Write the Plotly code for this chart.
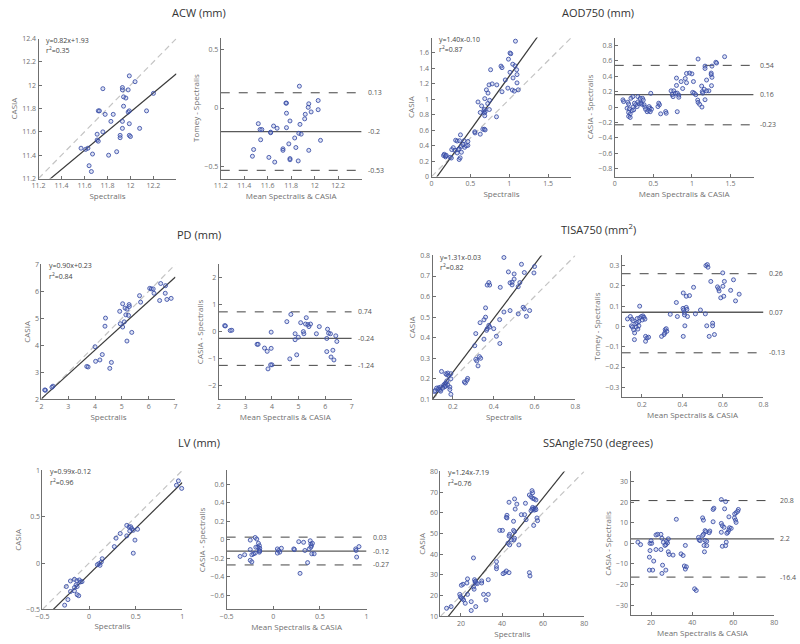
import plotly.graph_objects as go

W, H = 800, 644

# ---------------- DATA ----------------
# ACW (mm)
acw_spec = [11.99, 12.04, 11.93, 11.93, 11.98, 11.76, 12.20, 11.94, 11.96, 11.98, 11.99, 12.14, 11.72, 11.73,
            11.78, 11.85, 11.94, 11.83, 11.93, 11.99, 11.93, 12.08, 11.76, 11.71, 11.71, 11.72, 11.91, 11.91,
            11.99, 12.00, 11.57, 11.61, 11.63, 11.67, 11.81, 11.88, 11.64, 11.66]
acw_casia = [12.08, 12.03, 11.98, 11.96, 11.96, 11.97, 11.93, 11.90, 11.89, 11.77, 11.78, 11.78, 11.78, 11.78,
             11.75, 11.75, 11.82, 11.69, 11.69, 11.67, 11.63, 11.63, 11.60, 11.58, 11.53, 11.52, 11.57, 11.55,
             11.57, 11.56, 11.46, 11.45, 11.46, 11.41, 11.40, 11.43, 11.31, 11.26]
acw_mean = [11.87, 11.755, 11.76, 11.95, 12.03, 11.945, 11.76, 11.97, 11.92, 12.03, 11.915, 11.79, 11.52, 11.65,
            11.68, 11.76, 11.875, 11.535, 11.55, 11.625, 11.625, 11.865, 11.885, 11.83, 11.54, 12.05, 11.78,
            11.73, 11.73, 11.84, 11.48, 11.95, 11.47, 11.61, 11.79, 11.79, 11.86, 11.66]
acw_diff = [0.186, 0.042, 0.042, 0.036, 0.064, 0.006, -0.044, -0.033, -0.053, -0.014, -0.092, -0.11, -0.133,
            -0.153, -0.172, -0.167, -0.139, -0.183, -0.183, -0.205, -0.21, -0.215, -0.222, -0.255, -0.27, -0.275,
            -0.305, -0.347, -0.36, -0.336, -0.353, -0.36, -0.41, -0.42, -0.43, -0.44, -0.45, -0.46]
acw_lines = [0.13, -0.2, -0.53]
acw_eq = ["y=0.82x+1.93", "0.35"]
acw_fit = [0.82, 1.93]

# AOD750 (mm)
aod_spec = [1.08, 1.01, 1.02, 0.99, 1.045, 1.074, 0.894, 0.907, 0.76, 1.095, 1.01, 1.10, 1.049, 0.949, 1.10,
            0.74, 0.78, 0.84, 0.982, 1.04, 1.066, 1.116, 0.907, 0.706, 0.727, 0.598, 0.748, 0.685, 0.644, 0.723,
            0.744, 0.627, 0.673, 0.69, 0.68, 0.68, 0.685, 0.836, 0.66, 0.68, 0.69, 0.627, 0.556, 0.56, 0.372,
            0.31, 0.33, 0.36, 0.418, 0.468, 0.468, 0.426, 0.384, 0.28, 0.355, 0.405, 0.447, 0.343, 0.30, 0.26,
            0.384, 0.33, 0.163, 0.155, 0.18, 0.24, 0.255, 0.368, 0.355, 0.18, 0.19]
aod_casia = [1.753, 1.60, 1.59, 1.52, 1.455, 1.434, 1.43, 1.41, 1.383, 1.383, 1.35, 1.32, 1.277, 1.251, 1.213,
             1.187, 1.20, 1.187, 1.145, 1.12, 1.106, 1.123, 1.098, 1.123, 1.081, 0.966, 0.987, 1.009, 0.915,
             0.945, 0.868, 0.83, 0.851, 0.84, 0.825, 0.87, 0.787, 0.774, 0.613, 0.613, 0.604, 0.549, 0.58,
             0.565, 0.54, 0.47, 0.46, 0.464, 0.464, 0.455, 0.404, 0.379, 0.391, 0.374, 0.357, 0.413, 0.40,
             0.349, 0.34, 0.349, 0.315, 0.306, 0.289, 0.272, 0.255, 0.25, 0.24, 0.243, 0.221, 0.27, 0.275]
aod_mean = [1.424, 1.08, 1.31, 1.32, 1.17, 1.17, 1.26, 0.93, 0.97, 1.0, 0.80, 1.25, 1.25, 1.26, 1.19, 0.914,
            1.02, 0.86, 0.93, 0.80, 1.126, 1.254, 0.88, 1.22, 1.19, 1.16, 0.73, 0.765, 0.786, 0.81, 1.01, 1.03,
            1.05, 1.135, 1.14, 0.744, 0.756, 0.83, 0.83, 1.075, 1.08, 1.10, 1.13, 1.17, 0.81, 0.57, 0.58, 0.56,
            0.595, 0.66, 0.667, 0.467, 0.106, 0.115, 0.17, 0.18, 0.16, 0.19, 0.18, 0.20, 0.225, 0.18, 0.20,
            0.21, 0.234, 0.255, 0.27, 0.29, 0.238, 0.246, 0.30, 0.32, 0.30, 0.33, 0.36, 0.34, 0.35, 0.37, 0.38,
            0.39, 0.40, 0.42, 0.44, 0.446, 0.455, 0.476, 0.46]
aod_diff = [0.652, 0.622, 0.58, 0.57, 0.53, 0.50, 0.53, 0.435, 0.44, 0.43, 0.375, 0.44, 0.42, 0.385, 0.35,
            0.37, 0.33, 0.33, 0.315, 0.28, 0.272, 0.277, 0.24, 0.21, 0.21, 0.23, 0.21, 0.21, 0.18, 0.18, 0.19,
            0.18, 0.16, 0.20, 0.18, 0.16, 0.135, 0.127, 0.155, 0.09, 0.06, 0.035, 0.0, 0.095, -0.06, 0.05, 0.03,
            0.006, -0.088, -0.058, -0.08, 0.178, 0.093, 0.071, 0.063, 0.04, -0.015, -0.024, -0.07, -0.09, -0.045,
            -0.12, -0.135, 0.114, 0.135, 0.05, 0.03, 0.006, 0.0, -0.036, 0.066, 0.045, 0.135, 0.113, 0.113,
            0.05, 0.036, 0.09, 0.03, 0.0, -0.03, -0.06, -0.045, 0.006, -0.015, -0.028, -0.06]
aod_lines = [0.54, 0.16, -0.23]
aod_eq = ["y=1.40x-0.10", "0.87"]
aod_fit = [1.40, -0.10]

# PD (mm)
pd_spec = [6.45, 6.63, 6.04, 6.10, 6.17, 6.20, 6.62, 5.66, 6.41, 6.68, 6.84, 5.70, 5.03, 5.27, 5.28, 5.12,
           5.19, 4.92, 5.15, 5.25, 4.39, 5.09, 4.94, 5.03, 4.37, 5.37, 5.19, 4.00, 4.27, 4.18, 4.02, 4.61,
           4.55, 3.69, 3.74, 2.43, 2.39, 2.15, 2.12]
pd_casia = [6.29, 6.21, 6.11, 6.09, 6.09, 5.93, 5.93, 5.84, 5.66, 5.70, 5.74, 5.60, 5.54, 5.51, 5.44, 5.38,
            5.34, 5.26, 5.13, 5.11, 5.01, 4.87, 4.80, 4.68, 4.71, 4.48, 4.16, 3.95, 3.66, 3.46, 3.41, 3.37,
            3.15, 3.22, 3.20, 2.49, 2.45, 2.34, 2.35]
pd_mean = [4.71, 4.56, 5.29, 5.08, 5.26, 5.35, 5.45, 5.39, 5.18, 5.20, 5.78, 5.67, 6.09, 6.13, 6.20, 6.40,
           6.44, 6.06, 4.87, 4.99, 4.87, 3.97, 2.22, 2.25, 2.43, 2.49, 3.44, 3.48, 3.72, 3.82, 3.97, 4.93,
           4.67, 4.00, 3.95, 3.85, 6.06, 6.29, 6.22, 6.33]
pd_diff = [0.646, 0.378, 0.524, 0.34, 0.29, 0.27, 0.29, 0.195, 0.01, -0.07, 0.195, -0.07, 0.1, -0.05, -0.07,
           -0.146, -0.354, -0.244, -0.07, -0.2, -0.29, -0.01, 0.23, 0.22, 0.05, 0.06, -0.46, -0.46, -0.6,
           -0.72, -0.61, -0.85, -1.0, -1.22, -1.22, -1.37, -0.73, -0.68, -0.93, -1.04]
pd_lines = [0.74, -0.24, -1.24]
pd_eq = ["y=0.90x+0.23", "0.84"]
pd_fit = [0.90, 0.23]

# TISA750 (mm2)
tisa_spec = [0.45, 0.536, 0.60, 0.472, 0.50, 0.55, 0.597, 0.50, 0.376, 0.38, 0.368, 0.48, 0.49, 0.49, 0.528,
             0.52, 0.432, 0.36, 0.45, 0.48, 0.544, 0.55, 0.576, 0.52, 0.56, 0.36, 0.352, 0.429, 0.333, 0.376,
             0.38, 0.368, 0.365, 0.40, 0.312, 0.413, 0.352, 0.43, 0.307, 0.312, 0.317, 0.33, 0.336, 0.323,
             0.272, 0.269, 0.261, 0.256, 0.144, 0.165, 0.17, 0.175, 0.18, 0.19, 0.19, 0.17, 0.165, 0.16, 0.155,
             0.16, 0.14, 0.13, 0.12, 0.15, 0.165, 0.175, 0.185, 0.13, 0.135, 0.14, 0.112, 0.11, 0.185, 0.19]
tisa_casia = [0.79, 0.757, 0.746, 0.72, 0.71, 0.717, 0.715, 0.685, 0.668, 0.656, 0.656, 0.667, 0.657, 0.67,
              0.668, 0.648, 0.645, 0.545, 0.525, 0.532, 0.548, 0.54, 0.532, 0.516, 0.504, 0.50, 0.487, 0.488,
              0.473, 0.46, 0.452, 0.444, 0.436, 0.444, 0.42, 0.407, 0.393, 0.372, 0.361, 0.295, 0.287, 0.308,
              0.30, 0.263, 0.202, 0.193, 0.18, 0.185, 0.236, 0.225, 0.22, 0.228, 0.215, 0.225, 0.20, 0.19,
              0.18, 0.175, 0.17, 0.162, 0.16, 0.157, 0.155, 0.155, 0.165, 0.17, 0.16, 0.15, 0.145, 0.14, 0.143,
              0.138, 0.148, 0.125]
tisa_mean = [0.623, 0.516, 0.523, 0.526, 0.599, 0.652, 0.54, 0.607, 0.573, 0.578, 0.581, 0.60, 0.638, 0.68,
             0.589, 0.604, 0.662, 0.455, 0.404, 0.419, 0.435, 0.37, 0.403, 0.406, 0.419, 0.422, 0.489, 0.425,
             0.34, 0.375, 0.41, 0.41, 0.464, 0.513, 0.52, 0.549, 0.549, 0.532, 0.558, 0.412, 0.404, 0.189,
             0.315, 0.32, 0.323, 0.313, 0.309, 0.297, 0.218, 0.225, 0.233, 0.218, 0.129, 0.143, 0.151, 0.156,
             0.148, 0.153, 0.159, 0.164, 0.163, 0.17, 0.176, 0.185, 0.177, 0.189, 0.197, 0.205, 0.21, 0.215,
             0.172, 0.18, 0.185, 0.202]
tisa_diff = [0.352, 0.30, 0.305, 0.292, 0.264, 0.23, 0.222, 0.222, 0.195, 0.186, 0.175, 0.198, 0.178, 0.159,
             0.141, 0.149, 0.126, 0.193, 0.165, 0.149, 0.152, 0.118, 0.089, 0.081, 0.094, 0.084, 0.081, 0.049,
             0.06, 0.049, 0.068, 0.057, 0.062, 0.062, 0.003, 0.016, 0.003, -0.049, -0.04, 0.003, -0.049, 0.1,
             -0.016, -0.011, -0.024, -0.032, -0.04, -0.049, -0.049, -0.057, -0.053, -0.073, 0.037, 0.049, 0.036,
             0.028, 0.003, -0.003, -0.016, -0.032, -0.065, 0.013, 0.019, 0.024, 0.039, 0.042, 0.049, 0.052,
             0.045, 0.036, -0.003, -0.013, 0.003, 0.032]
tisa_lines = [0.26, 0.07, -0.13]
tisa_eq = ["y=1.31x-0.03", "0.82"]
tisa_fit = [1.31, -0.03]

# LV (mm)
lv_spec = [0.958, 0.937, 0.993, 0.404, 0.429, 0.446, 0.457, 0.436, 0.474, 0.52, 0.334, 0.289, 0.404, 0.492,
           0.474, 0.271, 0.141, 0.131, 0.106, 0.117, 0.089, -0.104, -0.093, -0.076, -0.157, -0.132, -0.2,
           -0.139, -0.128, -0.157, -0.128, -0.111, -0.199, -0.244, -0.227, -0.262, -0.157]
lv_casia = [0.887, 0.84, 0.806, 0.407, 0.389, 0.393, 0.372, 0.347, 0.354, 0.365, 0.319, 0.269, 0.294, 0.248,
            0.107, 0.178, 0.047, 0.012, -0.006, -0.024, -0.017, -0.182, -0.204, -0.2, -0.175, -0.19, -0.193,
            -0.235, -0.253, -0.299, -0.341, -0.352, -0.306, -0.253, -0.394, -0.454, -0.264]
lv_mean = [-0.247, -0.194, -0.177, -0.159, -0.149, -0.166, -0.145, -0.187, -0.247, -0.194, -0.212, -0.23,
           -0.149, -0.149, -0.145, -0.356, -0.307, -0.247, -0.23, 0.044, 0.058, 0.069, 0.044, 0.087, 0.22,
           0.227, 0.273, 0.325, 0.339, 0.385, 0.396, 0.403, 0.41, 0.42, 0.403, 0.413, 0.438, 0.368, 0.287,
           0.884, 0.888, 0.919, 0.894]
lv_diff = [-0.002, 0.026, 0.009, -0.037, -0.062, -0.079, -0.09, -0.079, -0.104, -0.142, -0.15, -0.16, -0.114,
           -0.132, -0.12, -0.178, -0.16, -0.22, -0.237, -0.097, -0.114, -0.132, -0.142, -0.09, -0.097, -0.104,
           -0.019, -0.026, -0.114, -0.097, -0.009, -0.044, -0.062, -0.037, -0.079, -0.15, -0.15, -0.245,
           -0.361, -0.097, -0.114, -0.072, -0.185]
lv_lines = [0.03, -0.12, -0.27]
lv_eq = ["y=0.99x-0.12", "0.96"]
lv_fit = [0.99, -0.12]

# SSAngle750 (degrees)
ss_spec = [54.6, 54.9, 53.3, 54.1, 54.9, 55.7, 56.5, 46.1, 43.4, 47.2, 51.4, 54.9, 55.4, 56.2, 55.7, 56.5,
           54.6, 54.1, 46.4, 42.4, 42.4, 42.1, 49.4, 51.0, 51.7, 57.0, 57.3, 55.4, 45.6, 38.9, 40.2, 45.6,
           46.1, 43.7, 43.4, 46.1, 45.8, 44.5, 42.9, 43.7, 48.2, 37.3, 37.3, 37.3, 26.1, 41.3, 42.1, 43.4,
           53.3, 53.6, 40.5, 26.6, 26.9, 27.4, 28.0, 27.0, 30.1, 30.1, 33.3, 23.2, 22.9, 21.0, 20.2, 26.1,
           26.4, 23.2, 19.4, 19.7, 20.2, 20.8, 21.3, 31.0, 33.3, 32.2, 22.1, 25.0, 27.2, 25.0, 15.2, 13.0]
ss_casia = [70.7, 69.7, 68.6, 67.8, 67.0, 66.7, 66.2, 66.7, 65.1, 64.2, 64.6, 62.6, 61.9, 62.3, 61.3, 61.5,
            61.8, 61.0, 61.8, 58.8, 57.5, 57.8, 59.1, 59.1, 56.7, 57.5, 56.2, 53.9, 55.9, 51.5, 51.5, 51.5,
            50.9, 49.6, 48.8, 47.7, 46.9, 46.9, 45.3, 44.5, 44.5, 36.4, 34.1, 33.0, 38.2, 31.1, 31.9, 31.1,
            31.1, 29.5, 30.6, 27.7, 26.6, 26.1, 25.8, 26.9, 27.1, 26.1, 27.7, 28.1, 26.1, 25.5, 25.0, 24.2,
            23.1, 20.6, 20.6, 19.5, 18.9, 18.5, 17.9, 20.6, 20.6, 17.9, 16.3, 17.1, 14.7, 12.8, 14.7, 13.9]
ss_mean = [54.2, 56.3, 50.2, 50.6, 55.8, 62.5, 62.2, 61.4, 60.7, 45.1, 45.5, 32.3, 57.9, 60.6, 61.1, 61.4,
           50.2, 54.2, 54.7, 55.5, 58.2, 59.0, 57.9, 57.4, 48.6, 48.3, 46.3, 46.7, 45.5, 45.1, 54.2, 56.9,
           43.1, 43.4, 43.9, 46.3, 47.1, 22.4, 23.2, 24.8, 25.3, 26.0, 27.6, 28.0, 27.2, 26.8, 28.4, 13.6,
           14.9, 19.5, 20.3, 20.0, 19.5, 19.2, 22.4, 24.8, 28.4, 28.8, 30.7, 34.6, 35.6, 36.7, 45.8, 47.1,
           46.0, 54.7, 56.3, 56.6, 21.3, 19.2, 20.8, 25.6, 27.2, 25.3, 36.2, 37.2, 36.7, 41.2, 42.0]
ss_diff = [21.3, 20.3, 16.5, 17.1, 16.8, 16.5, 15.6, 14.9, 14.3, 12.4, 11.3, 11.7, 12.9, 12.4, 11.3, 10.2,
           10.5, 9.7, 8.6, 7.8, 7.6, 7.3, 6.5, 5.4, 6.0, 5.2, 6.2, 5.7, 4.4, 3.8, 5.4, 4.9, 2.9, 1.7, 1.3,
           1.4, 1.0, 4.1, 4.4, 4.4, 2.5, 0.5, 1.0, 0.2, -0.6, -1.0, 2.2, 0.6, -0.6, 0.0, 0.0, 1.3, -3.5, -6.7,
           -3.0, -3.0, -4.1, -5.4, -5.7, -5.1, -5.9, -1.0, -1.0, -1.1, -4.1, -1.4, -1.1, 0.6, -8.6, -13.0,
           -13.0, -10.6, -13.0, -14.6, -11.0, -11.4, -12.5, -22.1, -22.9]
ss_lines = [20.8, 2.2, -16.4]
ss_eq = ["y=1.24x-7.19", "0.76"]
ss_fit = [1.24, -7.19]

titles = ["ACW (mm)", "AOD750 (mm)", "PD (mm)", "TISA750 (mm<sup>2</sup>)", "LV (mm)",
          "SSAngle750 (degrees)"]
ba_ylabels = ["Tomey - Spectralis", "CASIA - Spectralis", "CASIA - Spectralis", "Tomey - Spectralis",
              "CASIA - Spectralis", "CASIA - Spectralis"]

# ---------------- LAYOUT SPEC ----------------
# pixel boxes: (x0, x1, y0_top, y1_bottom)
groups = [
    dict(spec=acw_spec, casia=acw_casia, mean=acw_mean, diff=acw_diff, lines=acw_lines, eq=acw_eq, fit=acw_fit,
         sbox=(32, 172, 34, 176), bbox=(217, 360, 33, 176),
         sx=[11.2, 12.4], sy=[11.2, 12.4], sxt=[11.2, 11.4, 11.6, 11.8, 12, 12.2],
         syt=[11.2, 11.4, 11.6, 11.8, 12, 12.2, 12.4],
         bx=[11.2, 12.4], by=[-0.6, 0.6], bxt=[11.2, 11.4, 11.6, 11.8, 12, 12.2], byt=[-0.5, 0, 0.5],
         title_xy=(195, 8)),
    dict(spec=aod_spec, casia=aod_casia, mean=aod_mean, diff=aod_diff, lines=aod_lines, eq=aod_eq, fit=aod_fit,
         sbox=(431, 573, 33, 174), bbox=(617, 758, 33, 174),
         sx=[0, 1.8], sy=[0, 1.8], sxt=[0, 0.5, 1, 1.5], syt=[0, 0.2, 0.4, 0.6, 0.8, 1, 1.2, 1.4, 1.6],
         bx=[0, 1.8], by=[-0.9, 0.9], bxt=[0, 0.5, 1, 1.5],
         byt=[-0.8, -0.6, -0.4, -0.2, 0, 0.2, 0.4, 0.6, 0.8], title_xy=(600, 8)),
    dict(spec=pd_spec, casia=pd_casia, mean=pd_mean, diff=pd_diff, lines=pd_lines, eq=pd_eq, fit=pd_fit,
         sbox=(35, 171, 263, 400), bbox=(215, 350, 263, 400),
         sx=[2, 7], sy=[2, 7], sxt=[2, 3, 4, 5, 6, 7], syt=[2, 3, 4, 5, 6, 7],
         bx=[2, 7], by=[-2.5, 2.5], bxt=[2, 3, 4, 5, 6, 7], byt=[-2, -1, 0, 1, 2], title_xy=(195, 233)),
    dict(spec=tisa_spec, casia=tisa_casia, mean=tisa_mean, diff=tisa_diff, lines=tisa_lines, eq=tisa_eq,
         fit=tisa_fit, sbox=(432, 577, 254, 400), bbox=(624, 768, 254, 398),
         sx=[0.1, 0.8], sy=[0.1, 0.8], sxt=[0.2, 0.4, 0.6, 0.8],
         syt=[0.1, 0.2, 0.3, 0.4, 0.5, 0.6, 0.7, 0.8],
         bx=[0.1, 0.8], by=[-0.35, 0.35], bxt=[0.2, 0.4, 0.6, 0.8],
         byt=[-0.3, -0.2, -0.1, 0, 0.1, 0.2, 0.3], title_xy=(600, 227)),
    dict(spec=lv_spec, casia=lv_casia, mean=lv_mean, diff=lv_diff, lines=lv_lines, eq=lv_eq, fit=lv_fit,
         sbox=(36, 178, 472, 613), bbox=(223, 365, 472, 613),
         sx=[-0.5, 1], sy=[-0.5, 1], sxt=[-0.5, 0, 0.5, 1], syt=[-0.5, 0, 0.5, 1],
         bx=[-0.5, 1], by=[-0.75, 0.75], bxt=[-0.5, 0, 0.5, 1],
         byt=[-0.6, -0.4, -0.2, 0, 0.2, 0.4, 0.6], title_xy=(195, 444)),
    dict(spec=ss_spec, casia=ss_casia, mean=ss_mean, diff=ss_diff, lines=ss_lines, eq=ss_eq, fit=ss_fit,
         sbox=(440, 586, 473, 620), bbox=(633, 779, 473, 619),
         sx=[10, 80], sy=[10, 80], sxt=[20, 40, 60, 80], syt=[10, 20, 30, 40, 50, 60, 70, 80],
         bx=[10, 80], by=[-35, 35], bxt=[20, 40, 60, 80], byt=[-30, -20, -10, 0, 10, 20, 30],
         title_xy=(600, 444)),
]

FONT = "Open Sans"
AXC = "#6f6f6f"
TXC = "#707070"
MK = dict(size=4, color="rgba(120,140,210,0.25)", line=dict(color="rgba(55,75,165,0.95)", width=0.9))

fig = go.Figure()
layout = dict(width=W, height=H, margin=dict(l=0, r=0, t=0, b=0), showlegend=False,
              plot_bgcolor="white", paper_bgcolor="white", font=dict(family=FONT, color=TXC, size=8))
annotations = []


def dom(box):
    x0, x1, y0, y1 = box
    return [x0 / W, x1 / W], [1 - y1 / H, 1 - y0 / H]


def axis_common(rng, tv, dmn, anchor, title):
    return dict(range=rng, tickvals=tv, domain=dmn, anchor=anchor, showline=True, linecolor=AXC, linewidth=1,
                ticks="inside", ticklen=3, tickcolor=AXC, tickfont=dict(size=7, color=TXC, family=FONT),
                showgrid=False, zeroline=False, mirror=False, fixedrange=True,
                title=dict(text=title, font=dict(size=8, color=TXC, family=FONT), standoff=3))


k = 0
for gi, g in enumerate(groups):
    for kind in ("s", "b"):
        k += 1
        xa = "x" if k == 1 else f"x{k}"
        ya = "y" if k == 1 else f"y{k}"
        xkey = "xaxis" if k == 1 else f"xaxis{k}"
        ykey = "yaxis" if k == 1 else f"yaxis{k}"
        box = g["sbox"] if kind == "s" else g["bbox"]
        xd, yd = dom(box)
        if kind == "s":
            layout[xkey] = axis_common(g["sx"], g["sxt"], xd, ya, "Spectralis")
            layout[ykey] = axis_common(g["sy"], g["syt"], yd, xa, "CASIA")
            lo, hi = g["sx"]
            # identity line
            fig.add_trace(go.Scatter(x=[lo, hi], y=[lo, hi], mode="lines", xaxis=xa, yaxis=ya,
                                     line=dict(color="#c4c4c4", width=1.2, dash="6px,4px"), hoverinfo="skip"))
            a, b = g["fit"]
            fig.add_trace(go.Scatter(x=[lo, hi], y=[a * lo + b, a * hi + b], mode="lines", xaxis=xa,
                                     yaxis=ya, line=dict(color="#3a3a3a", width=1.2), hoverinfo="skip"))
            fig.add_trace(go.Scatter(x=g["spec"], y=g["casia"], mode="markers", xaxis=xa, yaxis=ya,
                                     marker=MK, cliponaxis=False))
            x0, x1, y0, y1 = box
            annotations.append(dict(text=g["eq"][0], xref="paper", yref="paper", x=(x0 + 6) / W,
                                    y=1 - (y0 - 5) / H, xanchor="left", yanchor="top", showarrow=False,
                                    font=dict(size=7, color="#444", family=FONT)))
            annotations.append(dict(text="r<sup>2</sup>=" + g["eq"][1], xref="paper", yref="paper",
                                    x=(x0 + 6) / W, y=1 - (y0 + 5) / H, xanchor="left", yanchor="top",
                                    showarrow=False, font=dict(size=7, color="#444", family=FONT)))
        else:
            layout[xkey] = axis_common(g["bx"], g["bxt"], xd, ya, "Mean Spectralis & CASIA")
            layout[ykey] = axis_common(g["by"], g["byt"], yd, xa, ba_ylabels[gi])
            lo, hi = g["bx"]
            for li, v in enumerate(g["lines"]):
                if li == 1:
                    ln = dict(color="#5a5a5a", width=1.3)
                else:
                    ln = dict(color="#444", width=1.0, dash="dash")
                fig.add_trace(go.Scatter(x=[lo, hi], y=[v, v], mode="lines", xaxis=xa, yaxis=ya, line=ln,
                                         hoverinfo="skip"))
                annotations.append(dict(text=f"{v:g}", xref=xa + " domain", yref=ya, x=1.0, y=v,
                                        xanchor="left", yanchor="middle", xshift=4, showarrow=False,
                                        font=dict(size=7, color="#555", family=FONT)))
            fig.add_trace(go.Scatter(x=g["mean"], y=g["diff"], mode="markers", xaxis=xa, yaxis=ya,
                                     marker=MK, cliponaxis=False))
    tx, ty = g["title_xy"]
    annotations.append(dict(text=titles[gi], xref="paper", yref="paper", x=tx / W, y=1 - ty / H,
                            xanchor="center", yanchor="middle", showarrow=False,
                            font=dict(size=11, color="#333", family=FONT)))

layout["annotations"] = annotations
fig.update_layout(**layout)
fig.write_html("out.html", config={"displayModeBar": False},
               post_script="document.body.style.margin='0';document.body.style.overflow='hidden';")
